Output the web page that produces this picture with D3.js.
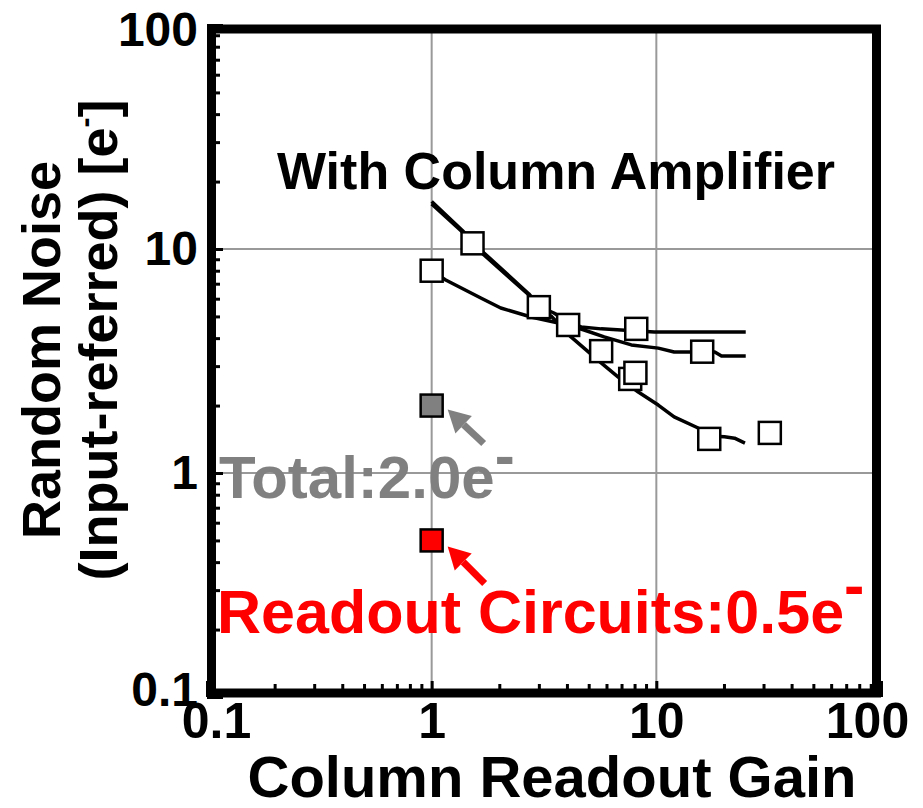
<!DOCTYPE html>
<html>
<head>
<meta charset="utf-8">
<script src="https://cdn.jsdelivr.net/npm/d3@7"></script>
<style>
  body { margin: 0; background: #fff; }
  text { font-family: "Liberation Sans", Arial, sans-serif; font-weight: bold; }
</style>
</head>
<body>
<div id="chart"></div>
<script>
// tick labels
const xTickValues = [0.1, 1, 10, 100];
const xTickLabels = ["0.1", "1", "10", "100"];
const yTickValues = [0.1, 1, 10, 100];
const yTickLabels = ["0.1", "1", "10", "100"];

// fitted curves
const gainA  = [1.0, 1.37, 1.52, 1.71, 2.71, 3.0, 3.4, 4.17, 5.68, 6.77, 8.31, 10.2, 12.0, 15.1, 17.9, 20.1, 22.3, 24.8];
const noiseA = [15.9, 11.9, 10.6, 9.4, 6.23, 5.5, 5.02, 4.05, 3.10, 2.68, 2.30, 2.01, 1.78, 1.60, 1.46, 1.45, 1.43, 1.36];
const gainB  = [1.0, 1.37, 1.52, 1.71, 2.71, 3.0, 3.5, 4.05, 4.63, 5.68, 6.98, 9.8, 25.0];
const noiseB = [16.3, 12.1, 10.8, 9.6, 6.3, 5.55, 5.18, 4.72, 4.49, 4.40, 4.35, 4.26, 4.26];
const gainC  = [1.0, 1.155, 1.655, 2.03, 2.77, 3.5, 4.05, 4.77, 5.86, 7.74, 10.2, 12.0, 18.2, 19.5, 25.0];
const noiseC = [7.98, 7.27, 6.04, 5.45, 4.97, 4.72, 4.58, 4.35, 4.05, 3.73, 3.61, 3.47, 3.47, 3.33, 3.33];

// measured points (open squares)
const openGain  = [1.0, 1.52, 3.0, 4.05, 8.14, 5.68, 16.0, 7.65, 8.07, 17.2, 32];
const openNoise = [8.0, 10.6, 5.5, 4.58, 4.4, 3.5, 3.48, 2.63, 2.8, 1.42, 1.51];

// highlighted points
const totalGain = 1, totalNoise = 2.0;
const readoutGain = 1, readoutNoise = 0.5;

let width = 923, height = 808;

let svg = d3.select("#chart")
    .append("svg")
    .attr("width", width)
    .attr("height", height);

let x = d3.scaleLog().domain([0.1, 100]).range([207, 881]);
let y = d3.scaleLog().domain([0.1, 100]).range([697, 25]);

// minor + major tick values
let ticksAll = [];
for (let e = -1; e <= 1; e++) {
    for (let k = 1; k <= 9; k++) ticksAll.push(k * Math.pow(10, e));
}
ticksAll.push(100);
const isMajor = d => xTickValues.some(v => Math.abs(v - d) < 1e-9);
const near = (a, b) => Math.abs(a - b) < 1e-9;

// grid
let grid = svg.append("g");
grid.selectAll(".gx").data([1, 10]).enter().append("line")
    .attr("x1", d => x(d)).attr("x2", d => x(d))
    .attr("y1", y(100)).attr("y2", y(0.1))
    .attr("stroke", "#999").attr("stroke-width", 2);
grid.selectAll(".gy").data([1, 10]).enter().append("line")
    .attr("y1", d => y(d)).attr("y2", d => y(d))
    .attr("x1", x(0.1)).attr("x2", x(100))
    .attr("stroke", "#999").attr("stroke-width", 2);

// axes
let xAxis = svg.append("g")
    .attr("transform", `translate(0,${y(0.1)})`)
    .call(d3.axisBottom(x).tickValues(ticksAll).tickSize(-14).tickPadding(5)
        .tickFormat(d => { let i = xTickValues.findIndex(v => near(v, d)); return i >= 0 ? xTickLabels[i] : ""; }));
xAxis.select(".domain").remove();
xAxis.selectAll(".tick line")
    .attr("y2", d => isMajor(d) ? -16 : -13)
    .attr("stroke", "#000").attr("stroke-width", 3);
xAxis.selectAll(".tick text")
    .attr("font-size", 50).attr("fill", "#000")
    .attr("font-family", "Liberation Sans, Arial, sans-serif").attr("font-weight", "bold")
    .attr("dx", d => near(d, 0.1) ? 9 : near(d, 100) ? -14 : 0);

let yAxis = svg.append("g")
    .attr("transform", `translate(${x(0.1)},0)`)
    .call(d3.axisLeft(y).tickValues(ticksAll).tickSize(-14).tickPadding(9)
        .tickFormat(d => { let i = yTickValues.findIndex(v => near(v, d)); return i >= 0 ? yTickLabels[i] : ""; }));
yAxis.select(".domain").remove();
yAxis.selectAll(".tick line")
    .attr("x2", d => isMajor(d) ? 16 : 13)
    .attr("stroke", "#000").attr("stroke-width", 3);
yAxis.selectAll(".tick text")
    .attr("font-size", 48).attr("fill", "#000")
    .attr("font-family", "Liberation Sans, Arial, sans-serif").attr("font-weight", "bold")
    .attr("y", d => near(d, 100) ? 5 : near(d, 0.1) ? -7 : 0);

// frame
svg.append("rect")
    .attr("x", x(0.1) + 4.5).attr("y", y(100) + 4)
    .attr("width", x(100) - x(0.1) - 9).attr("height", y(0.1) - y(100) - 8)
    .attr("fill", "none").attr("stroke", "#000").attr("stroke-width", 9);

// curves
let line = d3.line().x(d => x(d[0])).y(d => y(d[1]));
[[gainA, noiseA], [gainB, noiseB], [gainC, noiseC]].forEach(function(c) {
    svg.append("path")
        .datum(c[0].map((g, i) => [g, c[1][i]]))
        .attr("d", line)
        .attr("fill", "none").attr("stroke", "#000")
        .attr("stroke-width", 3.5).attr("stroke-linejoin", "round");
});

// squares
const sq = 22;
let pts = openGain.map((g, i) => ({g: g, n: openNoise[i], fill: "#fff"}));
pts.push({g: totalGain, n: totalNoise, fill: "#808080"});
pts.push({g: readoutGain, n: readoutNoise, fill: "#ff0000"});
svg.selectAll(".pt").data(pts).enter().append("rect")
    .attr("x", d => x(d.g) - sq / 2)
    .attr("y", d => y(d.n) - sq / 2)
    .attr("width", sq).attr("height", sq)
    .attr("fill", d => d.fill)
    .attr("stroke", "#000").attr("stroke-width", 2.5);

// arrows
function arrow(tx, ty, ex, ey, col) {
    let ang = Math.atan2(ey - ty, ex - tx);
    let hl = 22, hw = 12;
    let bx = tx + hl * Math.cos(ang), by = ty + hl * Math.sin(ang);
    svg.append("line").attr("x1", bx).attr("y1", by).attr("x2", ex).attr("y2", ey)
        .attr("stroke", col).attr("stroke-width", 7);
    let px = -Math.sin(ang) * hw, py = Math.cos(ang) * hw;
    svg.append("path")
        .attr("d", `M${tx},${ty}L${bx + px},${by + py}L${bx - px},${by - py}Z`)
        .attr("fill", col);
}
arrow(x(totalGain) + 16, y(totalNoise) + 4, x(totalGain) + 52, y(totalNoise) + 38, "#808080");
arrow(x(readoutGain) + 16, y(readoutNoise) + 6, x(readoutGain) + 53, y(readoutNoise) + 43, "#ff0000");

// annotations
svg.append("text").attr("x", 277).attr("y", 189)
    .attr("font-size", 52).attr("fill", "#000")
    .text("With Column Amplifier");

let t1 = svg.append("text").attr("x", 219).attr("y", 498)
    .attr("font-size", 60).attr("fill", "#808080");
t1.append("tspan").text("Total:2.0e");
t1.append("tspan").attr("dy", -22).text("-");

let t2 = svg.append("text").attr("x", 217).attr("y", 633)
    .attr("font-size", 61).attr("fill", "#ff0000");
t2.append("tspan").text("Readout Circuits:0.5e");
t2.append("tspan").attr("dy", -27).text("-");

// axis titles
svg.append("text")
    .attr("text-anchor", "middle")
    .attr("transform", `translate(${(x(0.1) + x(100)) / 2 + 8},797)`)
    .attr("font-size", 58)
    .text("Column Readout Gain");

svg.append("text")
    .attr("text-anchor", "middle")
    .attr("transform", "translate(60,350) rotate(-90)")
    .attr("font-size", 54)
    .text("Random Noise");

let yt = svg.append("text")
    .attr("text-anchor", "middle")
    .attr("transform", "translate(117,340) rotate(-90)")
    .attr("font-size", 54);
yt.append("tspan").text("(Input-referred) [e");
yt.append("tspan").attr("font-size", 30).attr("dy", -22).text("-");
yt.append("tspan").attr("dy", 22).text("]");
</script>
</body>
</html>
